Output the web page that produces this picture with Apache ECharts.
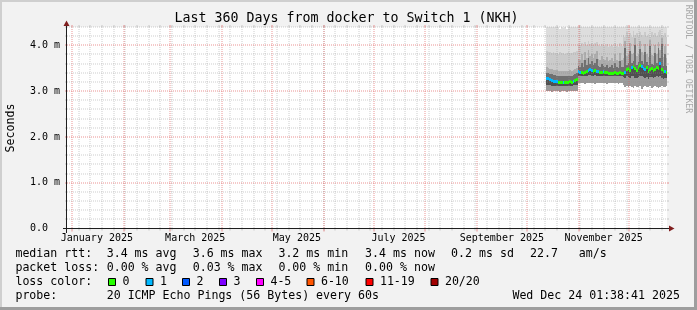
<!DOCTYPE html>
<html><head><meta charset="utf-8">
<script src="https://cdn.jsdelivr.net/npm/echarts@6/dist/echarts.min.js"></script>
<style>html,body{margin:0;padding:0;background:#f2f2f2}#c{width:697px;height:310px}</style>
</head><body><div id="c"></div>
<script>
const DAY = 86400000;
function ymd(s){const a=s.split('-').map(Number);return Date.UTC(a[0],a[1]-1,a[2]);}
const START = Date.UTC(2024,11,29,1,38,41);
const END = Date.UTC(2025,11,24,1,38,41);
const FIRST_SAMPLE = Date.UTC(2025,9,12,12,0,0); // one consolidated sample per day from here

const monthLines = ['2025-01-01','2025-02-01','2025-03-01','2025-04-01','2025-05-01','2025-06-01','2025-07-01','2025-08-01','2025-09-01','2025-10-01','2025-11-01','2025-12-01'];
const firstWeekLine = '2025-01-05';
const labelDates = ['2025-01-16','2025-03-16','2025-05-16','2025-07-16','2025-09-16','2025-11-16'];
const labelTexts = ['January 2025','March 2025','May 2025','July 2025','September 2025','November 2025'];
const yGridValues = [0.2,0.4,0.6,0.8,1.0,1.2,1.4,1.6,1.8,2.0,2.2,2.4,2.6,2.8,3.0,3.2,3.4,3.6,3.8,4.0,4.2,4.4];
const yMajor = [1,2,3,4];

// median rtt (ms) per day, Oct 12 .. Dec 23
const median = [3.29,3.28,3.26,3.25,3.23,3.22,3.21,3.20,3.20,3.19,3.20,3.19,3.20,3.20,3.21,3.20,3.22,3.24,3.26,
 3.43,3.41,3.42,3.40,3.42,3.44,3.46,3.48,3.46,3.45,3.47,3.45,3.43,3.41,3.42,3.44,3.42,3.41,3.40,3.40,3.40,3.40,3.41,3.40,3.40,3.41,3.40,
 3.40,3.42,3.48,3.50,3.47,3.52,3.55,3.50,3.46,3.52,3.56,3.55,3.50,3.48,3.52,3.45,3.48,3.50,3.46,3.48,3.52,3.50,3.62,3.48,3.44,3.45,3.42];
const loss = [1,1,1,1,1,1,1,0,0,0,1,0,0,0,0,0,1,0,0,
 1,1,0,0,0,0,1,1,1,0,0,1,1,0,0,1,0,0,0,0,0,0,0,0,0,0,0,
 0,1,0,0,0,1,0,0,0,0,0,1,1,1,0,0,0,0,0,0,0,0,1,0,0,1,0];
const pMin = [3.01,3.00,3.00,2.99,3.00,3.00,3.01,3.00,2.99,3.00,3.00,3.00,2.99,3.00,3.01,3.00,3.00,3.00,3.01,
 3.18,3.17,3.18,3.17,3.16,3.17,3.18,3.17,3.17,3.18,3.16,3.17,3.18,3.17,3.17,3.18,3.17,3.16,3.17,3.18,3.17,3.17,3.18,3.17,3.16,3.17,3.17,
 3.14,3.10,3.12,3.08,3.12,3.10,3.06,3.12,3.10,3.08,3.12,3.05,3.10,3.12,3.08,3.10,3.12,3.07,3.10,3.12,3.09,3.06,3.10,3.12,3.08,3.10,3.11];
const pLow = [3.14,3.13,3.13,3.12,3.12,3.12,3.12,3.11,3.12,3.11,3.12,3.11,3.12,3.12,3.12,3.12,3.13,3.13,3.14,
 3.34,3.33,3.33,3.32,3.33,3.34,3.35,3.35,3.34,3.34,3.35,3.34,3.33,3.32,3.33,3.34,3.33,3.32,3.32,3.32,3.32,3.32,3.33,3.32,3.32,3.33,3.32,
 3.30,3.28,3.32,3.30,3.28,3.33,3.32,3.29,3.28,3.31,3.33,3.32,3.30,3.28,3.31,3.27,3.30,3.31,3.28,3.30,3.32,3.30,3.34,3.29,3.27,3.29,3.28];
const pHigh1 = [3.40,3.39,3.38,3.37,3.36,3.35,3.34,3.33,3.33,3.32,3.33,3.32,3.33,3.33,3.34,3.33,3.35,3.37,3.39,
 3.55,3.53,3.62,3.52,3.68,3.56,3.72,3.60,3.65,3.57,3.62,3.70,3.55,3.53,3.60,3.54,3.52,3.58,3.51,3.52,3.56,3.51,3.62,3.52,3.51,3.66,3.52,
 3.52,3.95,3.58,3.62,3.88,3.62,3.66,4.00,3.58,3.64,3.92,3.66,3.60,3.86,3.64,3.56,3.98,3.60,3.58,3.84,3.62,3.94,3.72,4.02,3.55,3.82,3.54];
const pHigh2 = [3.52,3.50,3.49,3.48,3.47,3.46,3.46,3.45,3.45,3.44,3.45,3.44,3.45,3.45,3.46,3.45,3.47,3.49,3.50,
 3.70,3.68,3.80,3.67,3.86,3.72,3.90,3.76,3.82,3.72,3.80,3.88,3.70,3.68,3.76,3.70,3.67,3.74,3.66,3.67,3.72,3.66,3.80,3.67,3.66,3.84,3.67,
 3.72,4.10,3.76,3.80,4.04,3.80,3.84,4.15,3.76,3.82,4.10,3.85,3.78,4.02,3.82,3.75,4.12,3.78,3.76,4.00,3.80,4.08,3.90,4.16,3.74,3.98,3.72];
const pHigh3 = [3.88,3.86,3.85,3.84,3.85,3.83,3.84,3.82,3.85,3.83,3.84,3.82,3.84,3.85,3.83,3.84,3.85,3.86,3.88,
 4.02,4.00,4.05,3.98,4.08,4.00,4.10,4.02,4.05,4.00,4.04,4.08,4.00,3.98,4.02,4.00,3.98,4.02,3.97,3.98,4.00,3.97,4.04,3.98,3.97,4.06,3.98,
 4.22,4.18,4.30,4.20,4.26,4.18,4.32,4.22,4.26,4.20,4.30,4.22,4.18,4.28,4.20,4.25,4.18,4.30,4.22,4.26,4.20,4.28,4.34,4.22,4.20,4.26,4.18];
const pMax = [4.50,4.50,4.50,4.50,4.50,4.50,4.50,4.50,4.36,4.50,4.37,4.50,4.36,4.50,4.50,4.50,4.50,4.50,4.50,
 4.50,4.50,4.50,4.50,4.50,4.50,4.50,4.50,4.50,4.50,4.50,4.50,4.50,4.50,4.50,4.50,4.50,4.50,4.50,4.50,4.50,4.50,4.50,4.50,4.50,4.50,4.50,
 4.50,4.50,4.50,4.50,4.50,4.50,4.50,4.50,4.50,4.50,4.50,4.50,4.50,4.50,4.50,4.50,4.50,4.50,4.50,4.50,4.50,4.50,4.50,4.50,4.50,4.50,4.50];

const lossColors = ['#26ff00','#00b8ff','#0059ff','#7e00ff','#ff00ff','#ff5500','#ff0000','#a10000'];
const lossLabels = ['0','1','2','3','4-5','6-10','11-19','20/20'];
const bandColors = ['#9a9a9a','#505050','#707070','#adadad','#cbcbcb','#dddddd'];

// legend rows: [x, text] pieces
const legendRows = [
  [[16,'median rtt:'],[107.3,'3.4 ms avg'],[193.3,'3.6 ms max'],[279,'3.2 ms min'],[365.7,'3.4 ms now'],[451.7,'0.2 ms sd'],[530.7,'22.7'],[579.3,'am/s']],
  [[16,'packet loss:'],[107.3,'0.00 % avg'],[193.3,'0.03 % max'],[279,'0.00 % min'],[365.7,'0.00 % now']],
  [[16,'loss color:']],
  [[16,'probe:'],[107.3,'20 ICMP Echo Pings (56 Bytes) every 60s'],[513,'Wed Dec 24 01:38:41 2025']]
];
const rowY = [254, 268, 282, 296];
const boxX = [108,145.5,182,219,256,306.5,365.5,430.5];

const FONT = '"DejaVu Sans Mono", monospace';
const GRID = 'rgba(143,143,143,0.45)';
const MGRID = 'rgba(222,79,79,0.6)';

const labelTs = labelDates.map(ymd);
const monthTs = monthLines.map(ymd);
const weekTs = [];
for (let t = ymd(firstWeekLine); t < END; t += 7*DAY) weekTs.push(t);

const smokeData = median.map((m,i)=>[FIRST_SAMPLE+i*DAY, pMin[i], pLow[i], m, pHigh1[i], pHigh2[i], pHigh3[i], pMax[i]]);
const medianData = median.map((m,i)=>[FIRST_SAMPLE+i*DAY, m, loss[i]]);
const vGridData = weekTs.map(t=>[t,0,0]).concat(monthTs.map(t=>[t,0,1]));
const hGridData = yGridValues.map(v=>[START, v, yMajor.indexOf(v)>=0?1:0]);

const chart = echarts.init(document.getElementById('c'), null, {renderer:'canvas'});

function smokeItem(params, api){
  const cs = params.coordSys;
  const t = api.value(0);
  const x0 = Math.round(api.coord([t,0])[0]);
  const x1 = Math.round(api.coord([t+DAY,0])[0]);
  const xr = Math.min(x1, cs.x+cs.width);
  const ys = [];
  for (let k=1;k<=7;k++){ ys.push(Math.max(cs.y, Math.round(api.coord([t, api.value(k)])[1]))); }
  const children = [];
  for (let k=0;k<6;k++){
    const yb = ys[k], yt = ys[k+1];
    if (yb-yt>0) children.push({type:'rect', shape:{x:x0, y:yt, width:xr-x0, height:yb-yt}, style:{fill:bandColors[k]}});
  }
  return {type:'group', children};
}
function medianItem(params, api){
  const cs = params.coordSys;
  const t = api.value(0);
  const x0 = Math.round(api.coord([t,0])[0]);
  const x1 = Math.min(Math.round(api.coord([t+DAY,0])[0]), cs.x+cs.width);
  const y = Math.round(api.coord([t, api.value(1)])[1]);
  return {type:'rect', shape:{x:x0, y:y-1, width:x1-x0, height:3}, style:{fill:lossColors[api.value(2)]}};
}
function vGridItem(params, api){
  const cs = params.coordSys;
  const x = Math.round(api.coord([api.value(0),0])[0]);
  const major = api.value(2)===1;
  const col = major ? MGRID : GRID;
  const top = cs.y, bot = cs.y+cs.height;
  return {type:'group', children:[
    {type:'line', shape:{x1:x, y1:top-2, x2:x, y2:top}, style:{stroke:col, lineWidth:1}},
    {type:'line', shape:{x1:x, y1:bot, x2:x, y2:bot+(major?3:2)}, style:{stroke:col, lineWidth:1}},
    {type:'line', shape:{x1:x, y1:top, x2:x, y2:bot}, style:{stroke:col, lineWidth:1, lineDash:[1,1]}}
  ]};
}
function hGridItem(params, api){
  const cs = params.coordSys;
  const y = Math.round(api.coord([START, api.value(1)])[1]);
  const major = api.value(2)===1;
  const col = major ? MGRID : GRID;
  const l = cs.x, r = cs.x+cs.width;
  return {type:'group', children:[
    {type:'line', shape:{x1:l-2, y1:y, x2:l, y2:y}, style:{stroke:col, lineWidth:1}},
    {type:'line', shape:{x1:r, y1:y, x2:r+2, y2:y}, style:{stroke:col, lineWidth:1}},
    {type:'line', shape:{x1:l, y1:y, x2:r, y2:y}, style:{stroke:col, lineWidth:1, lineDash:[1,1]}}
  ]};
}

const graphic = [];
graphic.push({type:'rect', shape:{x:0,y:0,width:697,height:2}, style:{fill:'#cfcfcf'}, z:100});
graphic.push({type:'rect', shape:{x:0,y:0,width:2,height:310}, style:{fill:'#cfcfcf'}, z:100});
graphic.push({type:'rect', shape:{x:0,y:307,width:697,height:3}, style:{fill:'#9e9e9e'}, z:100});
graphic.push({type:'rect', shape:{x:694,y:0,width:3,height:310}, style:{fill:'#9e9e9e'}, z:100});
graphic.push({type:'line', shape:{x1:63, y1:228.5, x2:671, y2:228.5}, style:{stroke:'#1f1f1f', lineWidth:1}, z:100});
graphic.push({type:'line', shape:{x1:66.5, y1:233, x2:66.5, y2:23}, style:{stroke:'#1f1f1f', lineWidth:1}, z:100});
graphic.push({type:'polygon', shape:{points:[[669,225.5],[669,231.5],[674.5,228.5]]}, style:{fill:'#801f1f'}, z:101});
graphic.push({type:'polygon', shape:{points:[[63.5,26],[69.5,26],[66.5,20.5]]}, style:{fill:'#801f1f'}, z:101});
graphic.push({type:'text', x:346.5, y:18.5, style:{text:'Last 360 Days from docker to Switch 1 (NKH)', font:'13.3px '+FONT, fill:'#000', align:'center', verticalAlign:'middle'}, z:100});
graphic.push({type:'text', x:10.5, y:128, rotation:Math.PI/2, style:{text:'Seconds', font:'11.6px '+FONT, fill:'#000', align:'center', verticalAlign:'middle'}, z:100});
graphic.push({type:'text', x:688.5, y:59, rotation:-Math.PI/2, style:{text:'RRDTOOL / TOBI OETIKER', font:'8.2px '+FONT, fill:'#a8a8a8', align:'center', verticalAlign:'middle'}, z:100});
legendRows.forEach((row,i)=>row.forEach(([x,s])=>graphic.push({type:'text', x:x-0.6, y:rowY[i], style:{text:s, font:'11.6px '+FONT, fill:'#000', align:'left', verticalAlign:'middle'}, z:100})));
boxX.forEach((bx,i)=>{
  graphic.push({type:'rect', shape:{x:bx+0.5, y:278.5, width:7, height:7}, style:{fill:lossColors[i], stroke:'#000', lineWidth:1}, z:100});
  graphic.push({type:'text', x:bx+14.4, y:282, style:{text:lossLabels[i], font:'11.6px '+FONT, fill:'#000', align:'left', verticalAlign:'middle'}, z:100});
});

const option = {
  backgroundColor:'#f2f2f2',
  animation:false,
  grid:{left:67, top:27, width:600, height:201.5, show:true, backgroundColor:'#ffffff', borderWidth:0},
  xAxis:{type:'value', min:START, max:END, axisLine:{show:false}, axisTick:{show:false}, splitLine:{show:false},
    axisLabel:{customValues:labelTs, formatter:(v)=>{const i=labelTs.indexOf(v);return i>=0?labelTexts[i]:'';}, margin:4.5, fontFamily:FONT, fontSize:10, color:'#000', hideOverlap:false}},
  yAxis:{type:'value', min:0, max:4.40, interval:0.2, axisLine:{show:false}, axisTick:{show:false}, splitLine:{show:false},
    axisLabel:{formatter:(v)=>{if(Math.abs(v-Math.round(v))>1e-6) return ''; return v===0?'0.0  ':v.toFixed(1)+' m';}, margin:7, fontFamily:FONT, fontSize:10, color:'#000'}},
  series:[
    {type:'custom', name:'smoke', renderItem:smokeItem, data:smokeData, z:1, silent:true},
    {type:'custom', name:'vgrid', renderItem:vGridItem, data:vGridData, z:2, silent:true},
    {type:'custom', name:'hgrid', renderItem:hGridItem, data:hGridData, z:2, silent:true},
    {type:'custom', name:'median', renderItem:medianItem, data:medianData, z:3, silent:true}
  ],
  graphic:graphic
};
chart.setOption(option);
</script></body></html>
